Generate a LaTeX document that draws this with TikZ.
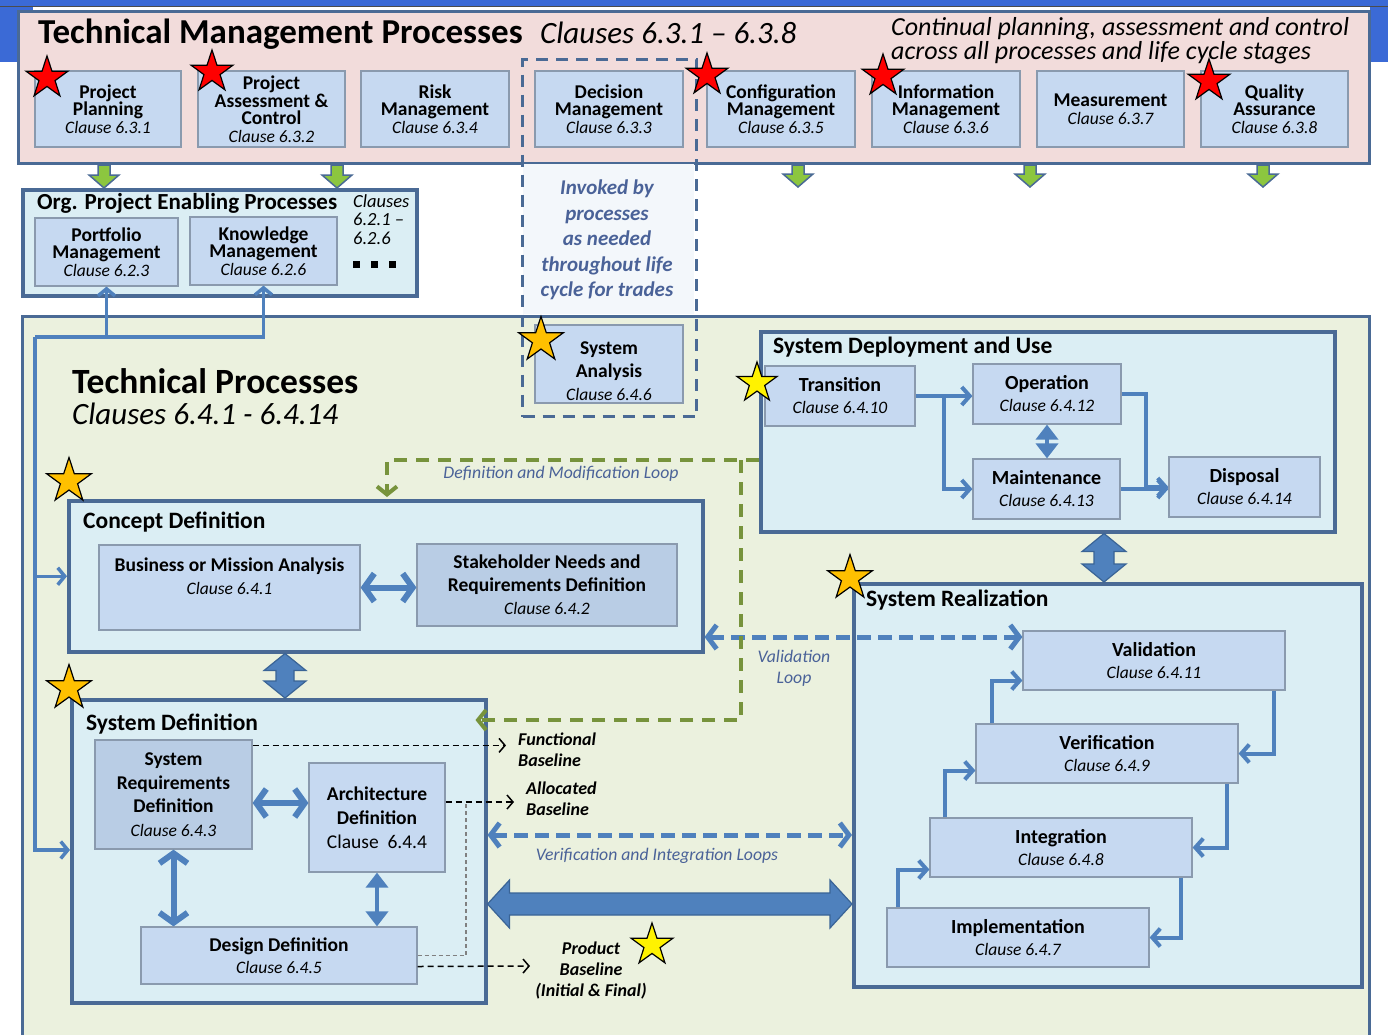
\documentclass[tikz,border=0pt]{standalone}
\usepackage{fontspec}
\setmainfont{Carlito}
\usetikzlibrary{arrows.meta,shapes.geometric,calc}
\definecolor{pinkf}{HTML}{F2DCDB}
\definecolor{frame}{HTML}{4A6A95}
\definecolor{bgreen}{HTML}{EBF1DE}
\definecolor{cyanf}{HTML}{DBEEF4}
\definecolor{boxf}{HTML}{C6D9F1}
\definecolor{boxd}{HTML}{B9CDE5}
\definecolor{boxline}{HTML}{8A9AAE}
\definecolor{ablue}{HTML}{4F81BD}
\definecolor{adark}{HTML}{3A6496}
\definecolor{lgreen}{HTML}{77933C}
\definecolor{garrowf}{HTML}{8CC63F}
\definecolor{lblue}{HTML}{4A6298}
\definecolor{hdrblue}{HTML}{3B6AD6}
\definecolor{invf}{HTML}{F3F7FB}
\definecolor{starorange}{HTML}{FFC000}
\newcommand\fsz[2]{\fontsize{#1pt}{#2pt}\selectfont}
\newcommand\cl[1]{{\fontsize{17.5pt}{17.5pt}\selectfont\mdseries\itshape Clause #1}}
\newcommand\vblk[5]{\draw[blk] let \p1=(#1), \p2=(#2) in (\x1,\y1) -- (\x1+#3pt,\y1-#5pt) -- (\x1+#4pt,\y1-#5pt) -- (\x1+#4pt,\y2+#5pt) -- (\x1+#3pt,\y2+#5pt) -- (\x1,\y2) -- (\x1-#3pt,\y2+#5pt) -- (\x1-#4pt,\y2+#5pt) -- (\x1-#4pt,\y1-#5pt) -- (\x1-#3pt,\y1-#5pt) -- cycle;}
\newcommand\hblk[5]{\draw[blk] let \p1=(#1), \p2=(#2) in (\x1,\y1) -- (\x1+#5pt,\y1+#3pt) -- (\x1+#5pt,\y1+#4pt) -- (\x2-#5pt,\y1+#4pt) -- (\x2-#5pt,\y1+#3pt) -- (\x2,\y1) -- (\x2-#5pt,\y1-#3pt) -- (\x2-#5pt,\y1-#4pt) -- (\x1+#5pt,\y1-#4pt) -- (\x1+#5pt,\y1-#3pt) -- cycle;}
\newcommand\dnarr[2]{\draw[garr] let \p1=(#1), \p2=(#2) in (\x1-6pt,\y1) -- (\x1+6pt,\y1) -- (\x1+6pt,\y2+13pt) -- (\x1+15pt,\y2+13pt) -- (\x1,\y2) -- (\x1-15pt,\y2+13pt) -- (\x1-6pt,\y2+13pt) -- cycle;}
\tikzset{
 pbox/.style={draw=boxline, line width=1.2pt, fill=boxf, align=center, inner sep=0pt, font=\fsz{19.5}{17.5}\bfseries},
 cont/.style={draw=frame, line width=3.5pt, fill=cyanf, inner sep=0pt, anchor=north west},
 sect/.style={anchor=base west, inner sep=0pt, font=\fsz{23.5}{23.5}\bfseries},
 lbl/.style={align=center, inner sep=0pt, text=lblue, font=\fsz{17.7}{21}\itshape},
 blbl/.style={align=left, font=\fsz{18}{21}\bfseries\itshape},
 blk/.style={fill=ablue, draw=adark, line width=1.2pt, line join=miter},
 garr/.style={fill=garrowf, draw=frame, line width=1.5pt},
 conn/.style={draw=ablue, line width=4pt, -{Straight Barb[length=8pt,width=18pt]}},
 tconn/.style={draw=ablue, line width=3.5pt, -{Straight Barb[length=7pt,width=17pt]}},
 chev/.style={draw=ablue, line width=6pt, {Straight Barb[length=10pt,width=28pt]}-{Straight Barb[length=10pt,width=28pt]}},
 tri/.style={draw=ablue, line width=4pt, {Triangle[length=15pt,width=22pt]}-{Triangle[length=15pt,width=22pt]}},
 dconn/.style={draw=ablue, line width=5pt, dash pattern=on 14pt off 7pt, {Straight Barb[length=9pt,width=24pt]}-{Straight Barb[length=9pt,width=24pt]}},
 gconn/.style={draw=lgreen, line width=4pt, dash pattern=on 13pt off 9pt, -{Straight Barb[length=8pt,width=20pt]}},
 bdash/.style={draw=black, line width=1.5pt, dash pattern=on 6pt off 4pt, -{Straight Barb[length=6pt,width=14pt]}},
 graydash/.style={draw=gray, line width=1.2pt, dash pattern=on 4pt off 3pt},
 rstar/.style={star, star points=5, star point ratio=2.6, minimum size=44pt, inner sep=0pt, draw=black, line width=1.2pt, fill=red},
 ostar/.style={rstar, fill=starorange, minimum size=47pt},
 ystar/.style={rstar, fill=yellow, minimum size=44pt}
}
\begin{document}
\begin{tikzpicture}[x=1pt,y=-1pt]
\useasboundingbox (0,0) rectangle (1388,1034);
\fill[white] (0,0) rectangle (1388,1034);
% slide header
\fill[hdrblue] (0,0) rectangle (1388,6);
\fill[hdrblue] (0,0) rectangle (33,62);
\fill[hdrblue] (1370,0) rectangle (1388,62);
\draw[gray!60!black, line width=1.5pt] (0,6.5) -- (1388,6.5);
% Technical management processes
\node[draw=frame, line width=3pt, fill=pinkf, minimum width=1351pt, minimum height=152pt, anchor=north west, inner sep=0pt] (tmp) at (17,10) {};
\node[anchor=base west, inner sep=0pt, font=\fsz{35}{35}\bfseries] (tmpt) at (38,43) {Technical Management Processes};
\node[anchor=base west, inner sep=0pt, font=\fsz{31}{31}\itshape] (tmpc) at (540,43) {Clauses 6.3.1 – 6.3.8};
\node[anchor=north west, align=left, inner sep=0pt, font=\fsz{26}{24}\itshape] (tmpn) at (891,17) {Continual planning, assessment and control\\across all processes and life cycle stages};
\node[pbox, minimum width=146pt, minimum height=76pt] (pp) at (108,109) {Project\\Planning\\\cl{6.3.1}};
\node[pbox, minimum width=147pt, minimum height=76pt] (pac) at (271.5,109) {Project\\Assessment \&\\Control\\\cl{6.3.2}};
\node[pbox, minimum width=148pt, minimum height=76pt] (rm) at (435,109) {Risk\\Management\\\cl{6.3.4}};
\node[pbox, minimum width=148pt, minimum height=76pt] (dm) at (609,109) {Decision\\Management\\\cl{6.3.3}};
\node[pbox, minimum width=148pt, minimum height=76pt] (cm) at (781,109) {Configuration\\Management\\\cl{6.3.5}};
\node[pbox, minimum width=148pt, minimum height=76pt] (im) at (946,109) {Information\\Management\\\cl{6.3.6}};
\node[pbox, minimum width=147pt, minimum height=76pt] (me) at (1110.5,109) {Measurement\\\cl{6.3.7}};
\node[pbox, minimum width=147pt, minimum height=76pt] (qa) at (1274.5,109) {Quality\\Assurance\\\cl{6.3.8}};
% Org enabling
\node[cont, minimum width=394pt, minimum height=106pt] (org) at (21,188) {};
\node[sect, font=\fsz{23}{23}\bfseries] (orgt) at (37,209) {Org. Project Enabling Processes};
\node[anchor=north west, align=left, inner sep=0pt, font=\fsz{18.5}{18.5}\itshape] (orgc) at (353,194) {Clauses\\6.2.1 –\\6.2.6};
\foreach \xx in {356,374,392} \fill (\xx-3.5,260.5) rectangle (\xx+3.5,267.5);
\node[pbox, minimum width=143pt, minimum height=68pt] (pm) at (106.5,252) {Portfolio\\Management\\\cl{6.2.3}};
\node[pbox, minimum width=147pt, minimum height=68pt] (km) at (263.5,251) {Knowledge\\Management\\\cl{6.2.6}};
% Technical processes
\node[draw=frame, line width=3pt, fill=bgreen, minimum width=1347pt, minimum height=740pt, anchor=north west, inner sep=0pt] (tp) at (21,315) {};
\fill[invf] (522.5,163.5) rectangle (693.5,313.5);
\node[anchor=base west, inner sep=0pt, font=\fsz{35.5}{35.5}\bfseries] (tpt) at (72,393) {Technical Processes};
\node[anchor=base west, inner sep=0pt, font=\fsz{31}{31}\itshape] (tpc) at (72,424) {Clauses 6.4.1 - 6.4.14};
% green down arrows
\dnarr{tmp.south -| 104,0}{org.north -| 104,0}
\dnarr{tmp.south -| 337,0}{org.north -| 337,0}
\dnarr{tmp.south -| 798,0}{798,187}
\dnarr{tmp.south -| 1030,0}{1030,187}
\dnarr{tmp.south -| 1263,0}{1263,187}
% invoked dashed region
\node[draw=frame, line width=3pt, dash pattern=on 12pt off 8pt, minimum width=174pt, minimum height=357pt, anchor=north west, inner sep=0pt] (inv) at (521,58) {};
\node[align=center, inner sep=0pt, text=lblue, font=\fsz{21}{25.5}\bfseries\itshape] (invt) at (607,240) {Invoked by\\processes\\as needed\\throughout life\\cycle for trades};
\node[pbox, minimum width=148pt, minimum height=78pt, font=\fsz{19.5}{23}\bfseries] (sa) at (609,364) {\rule{0pt}{28pt}System\\Analysis\\\cl{6.4.6}};
% System deployment and use
\node[cont, minimum width=574pt, minimum height=200pt] (sdu) at (759,330) {};
\node[sect] (sdut) at (773,353) {System Deployment and Use};
\node[pbox, minimum width=150pt, minimum height=60pt, font=\fsz{20}{22}\bfseries] (tr) at (840,396) {Transition\\\cl{6.4.10}};
\node[pbox, minimum width=148pt, minimum height=60pt, font=\fsz{20}{22}\bfseries] (op) at (1047,394) {Operation\\\cl{6.4.12}};
\node[pbox, minimum width=147pt, minimum height=60pt, font=\fsz{20}{22}\bfseries] (mt) at (1046.5,489) {Maintenance\\\cl{6.4.13}};
\node[pbox, minimum width=151pt, minimum height=60pt, font=\fsz{20}{22}\bfseries] (dp) at (1244.5,487) {Disposal\\\cl{6.4.14}};
\draw[conn] (tr.east) -- (op.west |- tr.east);
\draw[conn] ($(tr.east)+(28,0)$) |- (mt.west);
\draw[conn] (op.east) -- ++(24,0) |- (dp.west);
\draw[conn] (mt.east) -- (dp.west |- mt.east);
\draw[tri] (op.south) -- (mt.north -| op.south);
% System realization
\node[cont, minimum width=508pt, minimum height=403pt] (sr) at (852,582) {};
\node[sect] (srt) at (866,606) {System Realization};
\vblk{sdu.south -| 1104,0}{sr.north -| 1104,0}{22}{10}{18}
\node[pbox, minimum width=262pt, minimum height=59pt, font=\fsz{20}{22}\bfseries] (va) at (1154,660.5) {Validation\\\cl{6.4.11}};
\node[pbox, minimum width=262pt, minimum height=59pt, font=\fsz{20}{22}\bfseries] (ve) at (1107,753.5) {Verification\\\cl{6.4.9}};
\node[pbox, minimum width=262pt, minimum height=59pt, font=\fsz{20}{22}\bfseries] (in) at (1061,847.5) {Integration\\\cl{6.4.8}};
\node[pbox, minimum width=262pt, minimum height=59pt, font=\fsz{20}{22}\bfseries] (imp) at (1018,937.5) {Implementation\\\cl{6.4.7}};
\draw[conn] ($(va.south east)+(-12,0)$) |- (ve.east);
\draw[conn] ($(ve.south east)+(-12,0)$) |- (in.east);
\draw[conn] ($(in.south east)+(-12,0)$) |- (imp.east);
\draw[conn] ($(imp.north west)+(12,0)$) |- ($(in.west)+(0,22)$);
\draw[conn] ($(in.north west)+(16,0)$) |- ($(ve.west)+(0,17)$);
\draw[conn] ($(ve.north west)+(17,0)$) |- ($(va.west)+(0,20)$);
% Concept definition
\node[cont, minimum width=634pt, minimum height=151pt] (cd) at (67,499) {};
\node[sect] (cdt) at (83,528) {Concept Definition};
\node[pbox, minimum width=261pt, minimum height=85pt, font=\fsz{19.5}{23}\bfseries] (bma) at (229.5,587.5) {Business or Mission Analysis\\\cl{6.4.1}\\\mbox{}};
\node[pbox, fill=boxd, minimum width=260pt, minimum height=82pt, font=\fsz{19.5}{23}\bfseries] (snr) at (547,585) {Stakeholder Needs and\\Requirements Definition\\\cl{6.4.2}};
\draw[chev] (bma.east) -- (snr.west |- bma.east);
% System definition
\node[cont, minimum width=414pt, minimum height=303pt] (sd) at (70,698) {};
\node[sect] (sdt) at (86,730) {System Definition};
\vblk{cd.south -| 285,0}{sd.north -| 285,0}{21}{9}{17}
\node[pbox, fill=boxd, minimum width=157pt, minimum height=109pt, font=\fsz{19.5}{23.5}\bfseries] (srd) at (173.5,794.5) {System\\Requirements\\Definition\\\cl{6.4.3}};
\node[pbox, minimum width=136pt, minimum height=109pt, font=\fsz{19.5}{24}\bfseries] (ad) at (377,817.5) {Architecture\\Definition\\{\mdseries Clause~~6.4.4}};
\node[pbox, minimum width=276pt, minimum height=57pt, font=\fsz{19.5}{22}\bfseries] (dd) at (279,955.5) {Design Definition\\\cl{6.4.5}};
\draw[chev] (srd.east |- 0,803) -- (ad.west |- 0,803);
\draw[chev] (srd.south) -- (dd.north -| srd.south);
\draw[tri] (ad.south) -- (dd.north -| ad.south);
% baselines
\node[blbl, anchor=west, inner sep=0pt] (fb) at (518,750) {Functional\\Baseline};
\node[blbl, anchor=west, inner sep=0pt] (ab) at (526,799) {Allocated\\Baseline};
\node[blbl, align=center, inner sep=0pt] (pb) at (591,971) {Product\\Baseline\\(Initial \& Final)};
\coordinate (f0) at ($(srd.north east)+(0,6)$);
\draw[bdash] (f0) -- ($(f0 -| fb.west)+(-12,0)$);
\coordinate (a0) at (ad.east |- 0,802);
\draw[bdash] (a0) -- ($(a0 -| ab.west)+(-12,0)$);
\coordinate (aj) at (466,802);
\draw[graydash] (dd.east) -| (aj);
\coordinate (p0) at ($(dd.east)+(0,11)$);
\draw[bdash] (p0) -- (530,966);
% loops
\draw[dconn] (cd.east |- 0,637) -- (va.west |- 0,637);
\node[lbl] (vll) at (794,668) {Validation\\Loop};
\draw[dconn] (sd.east |- 0,835) -- (sr.west |- 0,835);
\node[lbl] (vil) at (657,856) {Verification and Integration Loops};
\hblk{sd.east |- 0,904}{sr.west |- 0,904}{24}{11}{22}
\coordinate (gs) at (741,460);
\draw[gconn] (sdu.west |- 0,460) -| ($(cd.north -| 387,0)+(0,-2)$);
\draw[gconn] (gs) |- ($(sd.east |- 0,720)+(-12,0)$);
\node[lbl] (dml) at (561,474) {Definition and Modification Loop};
% left feedback lines
\coordinate (lt) at (35,337);
\draw[tconn] (lt) -- (km.south |- lt) -- (km.south);
\draw[tconn] (pm.south |- lt) -- (pm.south);
\draw[tconn] (lt) |- (sd.west |- 0,850);
\draw[tconn] (lt |- cd.west) -- (cd.west);
% stars
\node[rstar] (s1) at (47,78) {};
\node[rstar] (s2) at (212,72) {};
\node[rstar] (s3) at (707,75) {};
\node[rstar] (s4) at (883,76) {};
\node[rstar] (s5) at (1209,81) {};
\node[ostar] (o1) at (541,340) {};
\node[ostar] (o2) at (69,481) {};
\node[ostar] (o3) at (850,578) {};
\node[ostar] (o4) at (69,688) {};
\node[ystar, minimum size=42pt] (y1) at (757,383) {};
\node[ystar] (y2) at (652,945) {};
\end{tikzpicture}
\end{document}
